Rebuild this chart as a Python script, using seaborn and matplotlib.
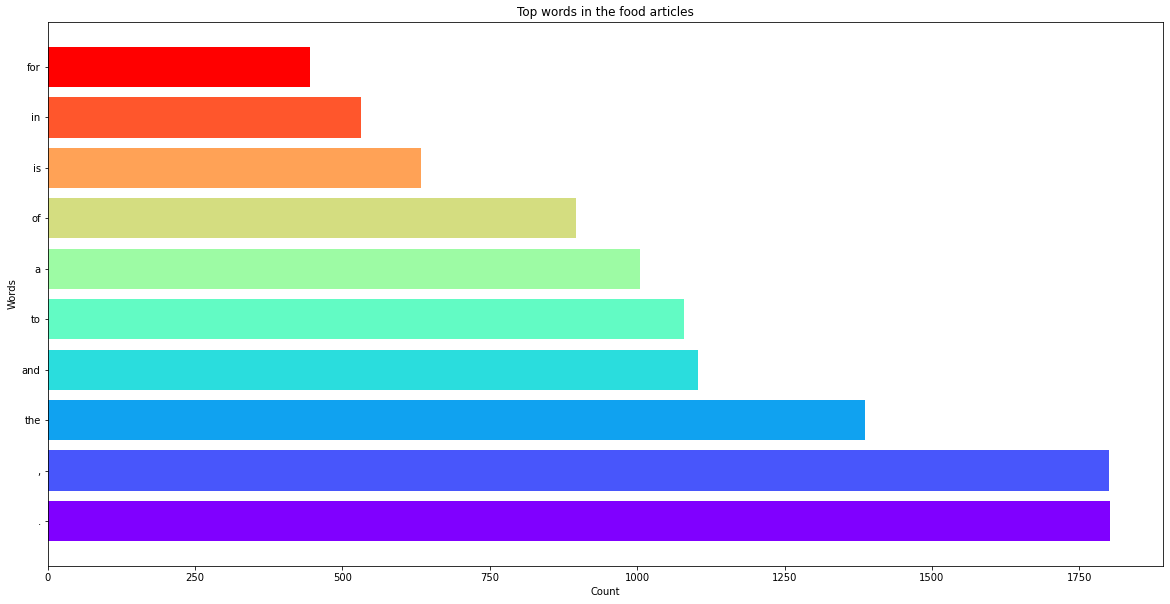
import matplotlib
matplotlib.use("Agg")
import matplotlib.pyplot as plt
import seaborn as sns
import numpy as np
import pandas as pd

# data (bottom to top as in the reference)
words = [".", ",", "the", "and", "to", "a", "of", "is", "in", "for"]
counts = [1802, 1800, 1386, 1104, 1080, 1005, 896, 633, 532, 445]

plt.rcParams['font.family'] = ['DejaVu Sans']
plt.rcParams['font.size'] = 10

df = pd.DataFrame({"word": words, "count": counts})
colors = plt.cm.rainbow(np.linspace(0, 1, len(words)))
palette = {w: colors[i] for i, w in enumerate(words)}
order = words[::-1]

fig = plt.figure(figsize=(1170 / 72, 604 / 72), dpi=72)
ax = fig.add_axes([47.7 / 1170, 1 - 566 / 604, (1163 - 47.7) / 1170, (566 - 22) / 604])
sns.barplot(data=df, x="count", y="word", hue="word", order=order, hue_order=order,
            palette=palette, orient="h", width=0.8, saturation=1, legend=False, ax=ax)

n = len(words)
lo = -0.4 - 0.05 * (n - 1 + 0.8)
ax.set_ylim(n - 1 - lo, lo)
ax.set_xlim(0, max(counts) * 1.05)
for s in ax.spines.values():
    s.set_visible(True)
    s.set_color("black")
ax.set_xticks([0, 250, 500, 750, 1000, 1250, 1500, 1750])
ax.set_title("Top words in the food articles")
ax.set_xlabel("Count")
ax.set_ylabel("Words")
fig.savefig("out.png", dpi=72)
